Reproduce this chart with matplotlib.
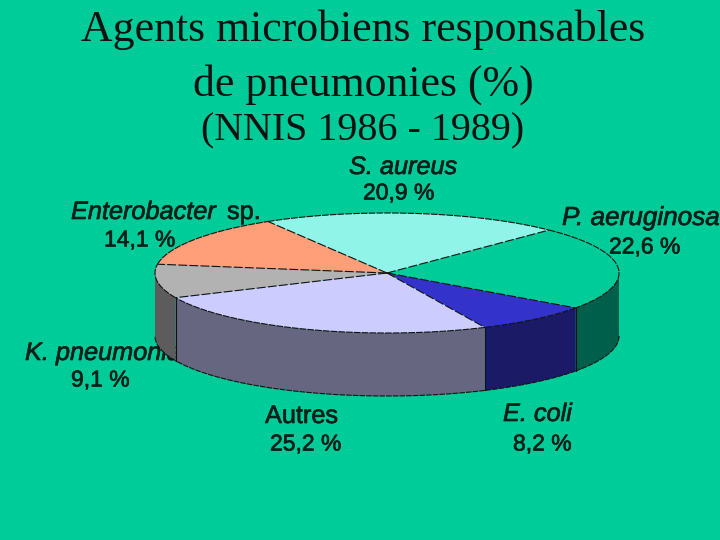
"""
3D pie of pneumonia agents, drawn with plain matplotlib polygons.
"""
import matplotlib
matplotlib.use("Agg")
import matplotlib.pyplot as plt
import matplotlib.patheffects as pe
import numpy as np

BG = "#00CC99"

# clockwise from the top right edge
agents = ["P. aeruginosa", "E. coli", "Autres", "K. pneumoniae", "Enterobacter", "S. aureus"]
shares = [22.6, 8.2, 25.2, 9.1, 14.1, 20.9]
top_colors = ["#00CC99", "#3333CC", "#CCCCFF", "#B2B2B2", "#FF9F7A", "#90F5E8"]
side_colors = ["#005F4A", "#1A1A66", "#666680", "#5C5C5C", "#7F4F3D", "#48807A"]

cx, cy = 387, 273
rx, ry = 232, 60
depth = 63
start = 45.7


def rim(t):
    t = np.radians(t)
    return cx + rx * np.cos(t), cy - ry * np.sin(t)


def pct(v):
    return f"{v:.1f} %".replace(".", ",")


fig = plt.figure(figsize=(7.2, 5.4), dpi=100, facecolor=BG)
ax = fig.add_axes([0, 0, 1, 1])
ax.set_xlim(0, 720)
ax.set_ylim(540, 0)
ax.axis("off")

# ── Titles ────────────────────────────────────────────────────────────────
serif = "Liberation Serif"
ax.text(363, 30, "Agents microbiens responsables", ha="center", va="center",
        fontsize=31.6, family=serif, color="#111111")
ax.text(363, 85, "de pneumonies (%)", ha="center", va="center",
        fontsize=31.6, family=serif, color="#111111")
ax.text(363, 131, "(NNIS 1986 - 1989)", ha="center", va="center",
        fontsize=28.8, family=serif, color="#111111")

# ── Labels (drawn under the pie, the K. pneumoniae one gets covered) ──────
sans = "Liberation Sans"
stroke = [pe.withStroke(linewidth=0.5, foreground="#04201A")]
lab = dict(family=sans, color="#04201A", zorder=1, va="center", path_effects=stroke)
name_size = 18.2
num_size = 16.5
ax.text(71, 212, "Enterobacter", style="italic", fontsize=name_size, **lab)
ax.text(227, 212, "sp.", fontsize=name_size, **lab)
ax.text(104, 240, pct(shares[4]), fontsize=num_size, **lab)
ax.text(349, 167, agents[5], style="italic", fontsize=name_size, **lab)
ax.text(363, 193, pct(shares[5]), fontsize=num_size, **lab)
ax.text(562, 218, agents[0], style="italic", fontsize=18.8, **lab)
ax.text(609, 247, pct(shares[0]), fontsize=num_size, **lab)
ax.text(25, 353, agents[3], style="italic", fontsize=name_size, **lab)
ax.text(71, 380, pct(shares[3]), fontsize=num_size, **lab)
ax.text(265, 416, agents[2], fontsize=name_size, **lab)
ax.text(270, 444, pct(shares[2]), fontsize=num_size, **lab)
ax.text(503, 414, agents[1], style="italic", fontsize=name_size, **lab)
ax.text(513, 444, pct(shares[1]), fontsize=num_size, **lab)

# ── Slices ────────────────────────────────────────────────────────────────
sweeps = np.array(shares) / sum(shares) * 360
ends = start - np.cumsum(sweeps)
starts = ends + sweeps

for a, b, top, side in zip(starts, ends, top_colors, side_colors):
    # side wall: only the part on the front half of the ellipse is visible
    hi, lo = min(a, 0), max(b, -180)
    if hi > lo:
        ts = np.linspace(hi, lo, 80)
        x, y = rim(ts)
        ax.fill(np.r_[x, x[::-1]], np.r_[y, y[::-1] + depth], fc=side, ec="none", zorder=3)
        ax.plot(x, y + depth, color="#111111", lw=0.8, ls=(0, (5, 1)), zorder=4)
        xe, ye = rim(lo)
        if lo > -180:
            ax.plot([xe, xe], [ye, ye + depth], color="#111111", lw=0.8, zorder=4)

    ts = np.linspace(a, b, 120)
    x, y = rim(ts)
    ax.fill(np.r_[cx, x], np.r_[cy, y], fc=top, ec="none", zorder=5)
    ax.plot(x, y, color="#111111", lw=0.8, ls=(0, (6, 1)), zorder=6)
    ax.plot([cx, x[0]], [cy, y[0]], color="#111111", lw=0.8, ls=(0, (8, 2)), zorder=6)

fig.savefig("out.png", dpi=100, facecolor=BG)
